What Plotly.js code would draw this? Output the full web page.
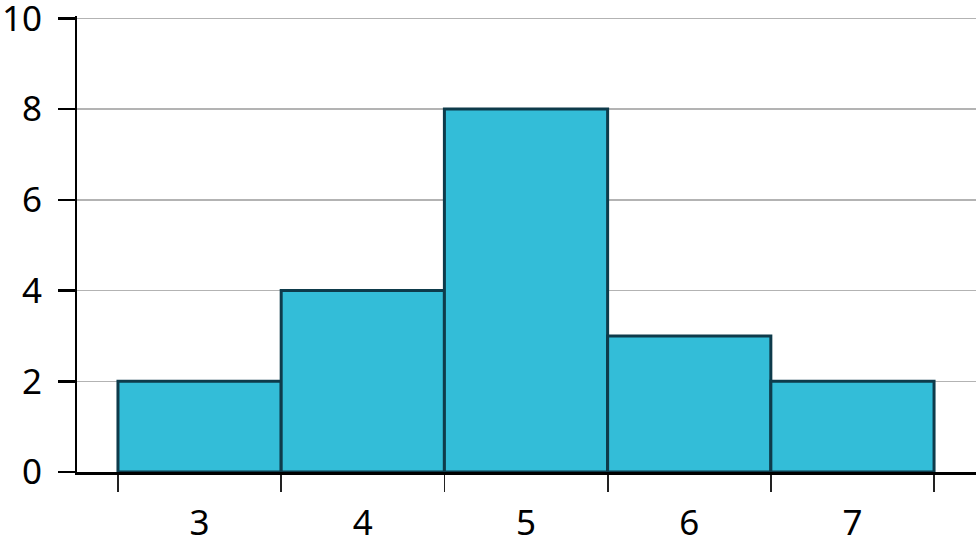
<!DOCTYPE html>
<html>
<head>
<meta charset="utf-8">
<script src="https://cdn.plot.ly/plotly-3.0.1.min.js"></script>
<style>
  html, body { margin: 0; padding: 0; background: #fff; }
  #graph { width: 976px; height: 548px; }
</style>
</head>
<body>
<div id="graph"></div>
<script>
// histogram bins and their counts
var binCenters = [3, 4, 5, 6, 7];
var binCounts = [2, 4, 8, 3, 2];
var yTicks = [0, 2, 4, 6, 8, 10];

var bars = {
    type: 'bar',
    x: binCenters,
    y: binCounts,
    width: 1,
    marker: {
        color: '#33bdd8',
        line: { color: '#0e3b4b', width: 3 }
    },
    hoverinfo: 'none'
};

var layout = {
    width: 976,
    height: 548,
    margin: { l: 77, r: 0, t: 16, b: 76 },
    paper_bgcolor: '#fff',
    plot_bgcolor: '#fff',
    showlegend: false,
    bargap: 0,
    font: { family: 'Noto Sans, Open Sans, sans-serif', size: 35, color: '#000' },
    xaxis: {
        range: [2.249, 7.757],
        tickvals: binCenters,
        ticktext: binCenters.map(String),
        ticks: '',
        ticklabelstandoff: 18,
        showgrid: false,
        zeroline: false,
        showline: true,
        linecolor: '#000',
        linewidth: 2.5,
        minor: {
            tick0: 2.5,
            dtick: 1,
            ticks: 'outside',
            ticklen: 17,
            tickwidth: 1.8,
            tickcolor: '#222',
            showgrid: false
        },
        tickfont: { size: 35, color: '#000' }
    },
    yaxis: {
        range: [0, 10.05],
        tickvals: yTicks,
        ticks: 'outside',
        ticklen: 17,
        tickwidth: 2.5,
        tickcolor: '#000',
        ticklabelstandoff: 9,
        ticklabeloverflow: 'allow',
        showgrid: true,
        gridcolor: '#b3b3b3',
        gridwidth: 1.5,
        zeroline: false,
        showline: true,
        linecolor: '#000',
        linewidth: 2,
        tickfont: { size: 35, color: '#000' }
    }
};

Plotly.newPlot('graph', [bars], layout, { staticPlot: true });
</script>
</body>
</html>
